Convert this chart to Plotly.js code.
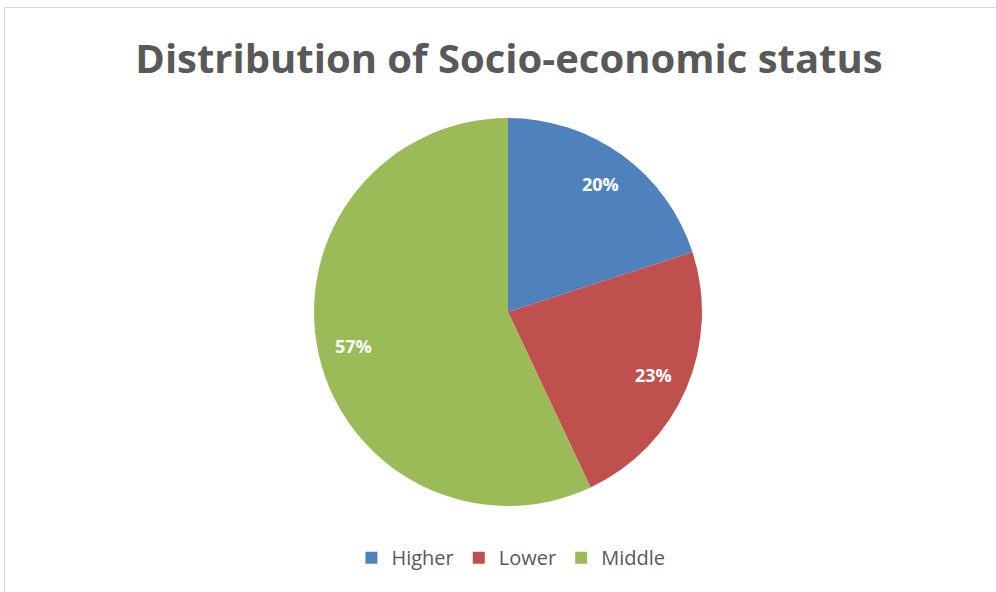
<!DOCTYPE html>
<html>
<head>
<meta charset="utf-8">
<script src="https://cdn.plot.ly/plotly-3.0.1.min.js"></script>
<style>
  html, body { margin: 0; padding: 0; background: #fff; }
  #wrap { position: relative; width: 996px; height: 592px; overflow: hidden; }
  #frame { position: absolute; left: 4px; top: 7px; width: 1000px; height: 600px; border: 1px solid #d9d9d9; box-sizing: border-box; }
  #chart { position: absolute; left: 0; top: 0; width: 996px; height: 592px; }
</style>
</head>
<body>
<div id="wrap">
  <div id="frame"></div>
  <div id="chart"></div>
</div>
<script>
const categories = ["Higher", "Lower", "Middle"];
const values = [20, 23, 57];
const colors = ["#4F81BD", "#C0504D", "#9BBB59"];
const chartTitle = "Distribution of Socio-economic status";

const W = 996, H = 592;
const domX = [0.3153, 0.7048], domY = [0.1453, 0.8007];

// data labels placed at the angular middle of each slice, computed from the values
const total = values.reduce((a, b) => a + b, 0);
const cxPx = (domX[0] + domX[1]) / 2 * W;
const cyPx = (1 - (domY[0] + domY[1]) / 2) * H;
const Rpx = (domX[1] - domX[0]) * W / 2;
const labelRadius = 0.815 * Rpx;
let cum = 0;
const annotations = values.map((v, i) => {
  const mid = (cum + v / 2) / total * 2 * Math.PI;
  cum += v;
  const px = cxPx + labelRadius * Math.sin(mid);
  const py = cyPx - labelRadius * Math.cos(mid);
  return {
    xref: "paper", yref: "paper",
    x: px / W, y: 1 - py / H,
    xanchor: "center", yanchor: "middle",
    showarrow: false,
    text: Math.round(v / total * 100) + "%",
    font: { family: "Open Sans, sans-serif", size: 18, color: "#ffffff", weight: "bold" }
  };
});

const trace = {
  type: "pie",
  labels: categories,
  values: values,
  sort: false,
  direction: "clockwise",
  rotation: 0,
  marker: { colors: colors, line: { color: "#ffffff", width: 0 } },
  textinfo: "none",
  hoverinfo: "label+percent",
  domain: { x: domX, y: domY }
};

const layout = {
  width: W,
  height: H,
  margin: { l: 0, r: 0, t: 0, b: 0 },
  paper_bgcolor: "rgba(0,0,0,0)",
  plot_bgcolor: "rgba(0,0,0,0)",
  title: {
    text: chartTitle,
    font: { family: "Open Sans, sans-serif", size: 40, color: "#595959", weight: "bold" },
    x: 0.511, xanchor: "center",
    y: 0.9, yanchor: "middle"
  },
  annotations: annotations,
  showlegend: true,
  legend: {
    orientation: "h",
    x: 0.513, xanchor: "center",
    y: 0.058, yanchor: "middle",
    font: { family: "Open Sans, sans-serif", size: 20, color: "#595959" },
    itemwidth: 30,
    traceorder: "normal"
  }
};

Plotly.newPlot("chart", [trace], layout, { displayModeBar: false, staticPlot: true });
</script>
</body>
</html>
